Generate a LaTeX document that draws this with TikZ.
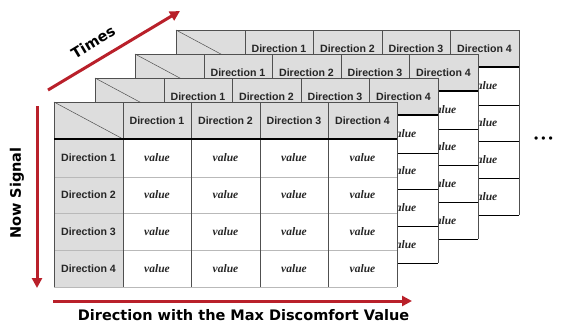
\documentclass[tikz,border=0pt]{standalone}
\usepackage{fontspec}
\setmainfont{Liberation Sans}
\newfontfamily\valfont{Liberation Serif}
\newfontfamily\axisfont{DejaVu Sans}
\usetikzlibrary{arrows.meta}
\definecolor{arrowred}{RGB}{185,32,42}
\definecolor{hdrgray}{RGB}{221,221,221}
\definecolor{gridline}{RGB}{80,80,80}
\definecolor{lightline}{RGB}{185,185,185}
\tikzset{
  hdrtext/.style={font=\fontsize{10.6}{10}\selectfont\bfseries, text=black!85, inner sep=0pt},
  valtext/.style={font=\valfont\fontsize{11.5}{10}\selectfont\bfseries\itshape, text=black!85, inner sep=0pt},
  axislabel/.style={font=\axisfont\fontsize{14.5}{15}\selectfont\bfseries, inner sep=0pt},
  axisarrow/.style={draw=arrowred, line width=3pt, -{Triangle[length=10pt,width=10pt]}},
}
% #1 x0, #2 y0, #3 id, #4 body-horizontal colour, #5 1 = front table (all texts)
\newcommand{\drawtable}[5]{%
 \begin{scope}[shift={(#1,#2)}]
  \fill[hdrgray] (0,0) rectangle (343,37);
  \fill[hdrgray] (0,37) rectangle (69,185);
  \fill[white] (69,37) rectangle (343,185);
  \draw[gridline, line width=0.5pt] (0,0) -- (69,37);
  \foreach \r in {75,111,148,185} \draw[#4, line width=0.9pt] (0,\r) -- (343,\r);
  \foreach \c in {0,69,137,206,274,343} \draw[gridline, line width=0.8pt] (\c,0) -- (\c,185);
  \draw[gridline, line width=0.8pt] (0,0) -- (343,0);
  \draw[black, line width=1.3pt] (0,37) -- (343,37);
  \foreach \c/\cx in {1/103,2/171.5,3/240,4/308.5}
    \node[hdrtext] (h#3c\c) at (\cx,18.5) {Direction \c};
  \ifnum#5=1
  \foreach \r/\ry in {1/56,2/93,3/129.5,4/166.5}{
    \node[hdrtext] (h#3r\r) at (34.5,\ry) {Direction \r};
    \foreach \c/\cx in {1/103,2/171.5,3/240,4/308.5}
      \node[valtext] (v#3r\r c\c) at (\cx,\ry) {value};
  }
  \else
  \foreach \r/\ry in {1/56,2/93,3/129.5,4/166.5}
    \node[valtext] (v#3r\r c4) at (308.5,\ry) {value};
  \fi
 \end{scope}}
\begin{document}
\begin{tikzpicture}[x=1pt,y=-1pt]
\useasboundingbox (0,0) rectangle (565,324);
\drawtable{176}{30}{d}{black}{0}
\drawtable{135}{54}{c}{black}{0}
\drawtable{95}{78}{b}{black}{0}
\drawtable{54}{102}{a}{lightline}{1}
% dots
\node[inner sep=0pt, font=\fontsize{12}{12}\selectfont] (dots) at (543.5,140) {\textbullet\hspace{3pt}\textbullet\hspace{3pt}\textbullet};
% Times
\coordinate (tS) at (48,90);
\coordinate (tE) at (180,11);
\draw[axisarrow] (tS) -- (tE);
\node[axislabel, rotate=31] (times) at (93,42) {Times};
% Now Signal
\coordinate (nS) at (37,106);
\coordinate (nE) at (37,288);
\draw[axisarrow] (nS) -- (nE);
\node[axislabel, rotate=90] (now) at (17,193) {Now Signal};
% Direction axis
\coordinate (dS) at (53,301);
\coordinate (dE) at (412,301);
\draw[axisarrow] (dS) -- (dE);
\node[axislabel] (dir) at (243.5,315.5) {Direction with the Max Discomfort Value};
\end{tikzpicture}
\end{document}
